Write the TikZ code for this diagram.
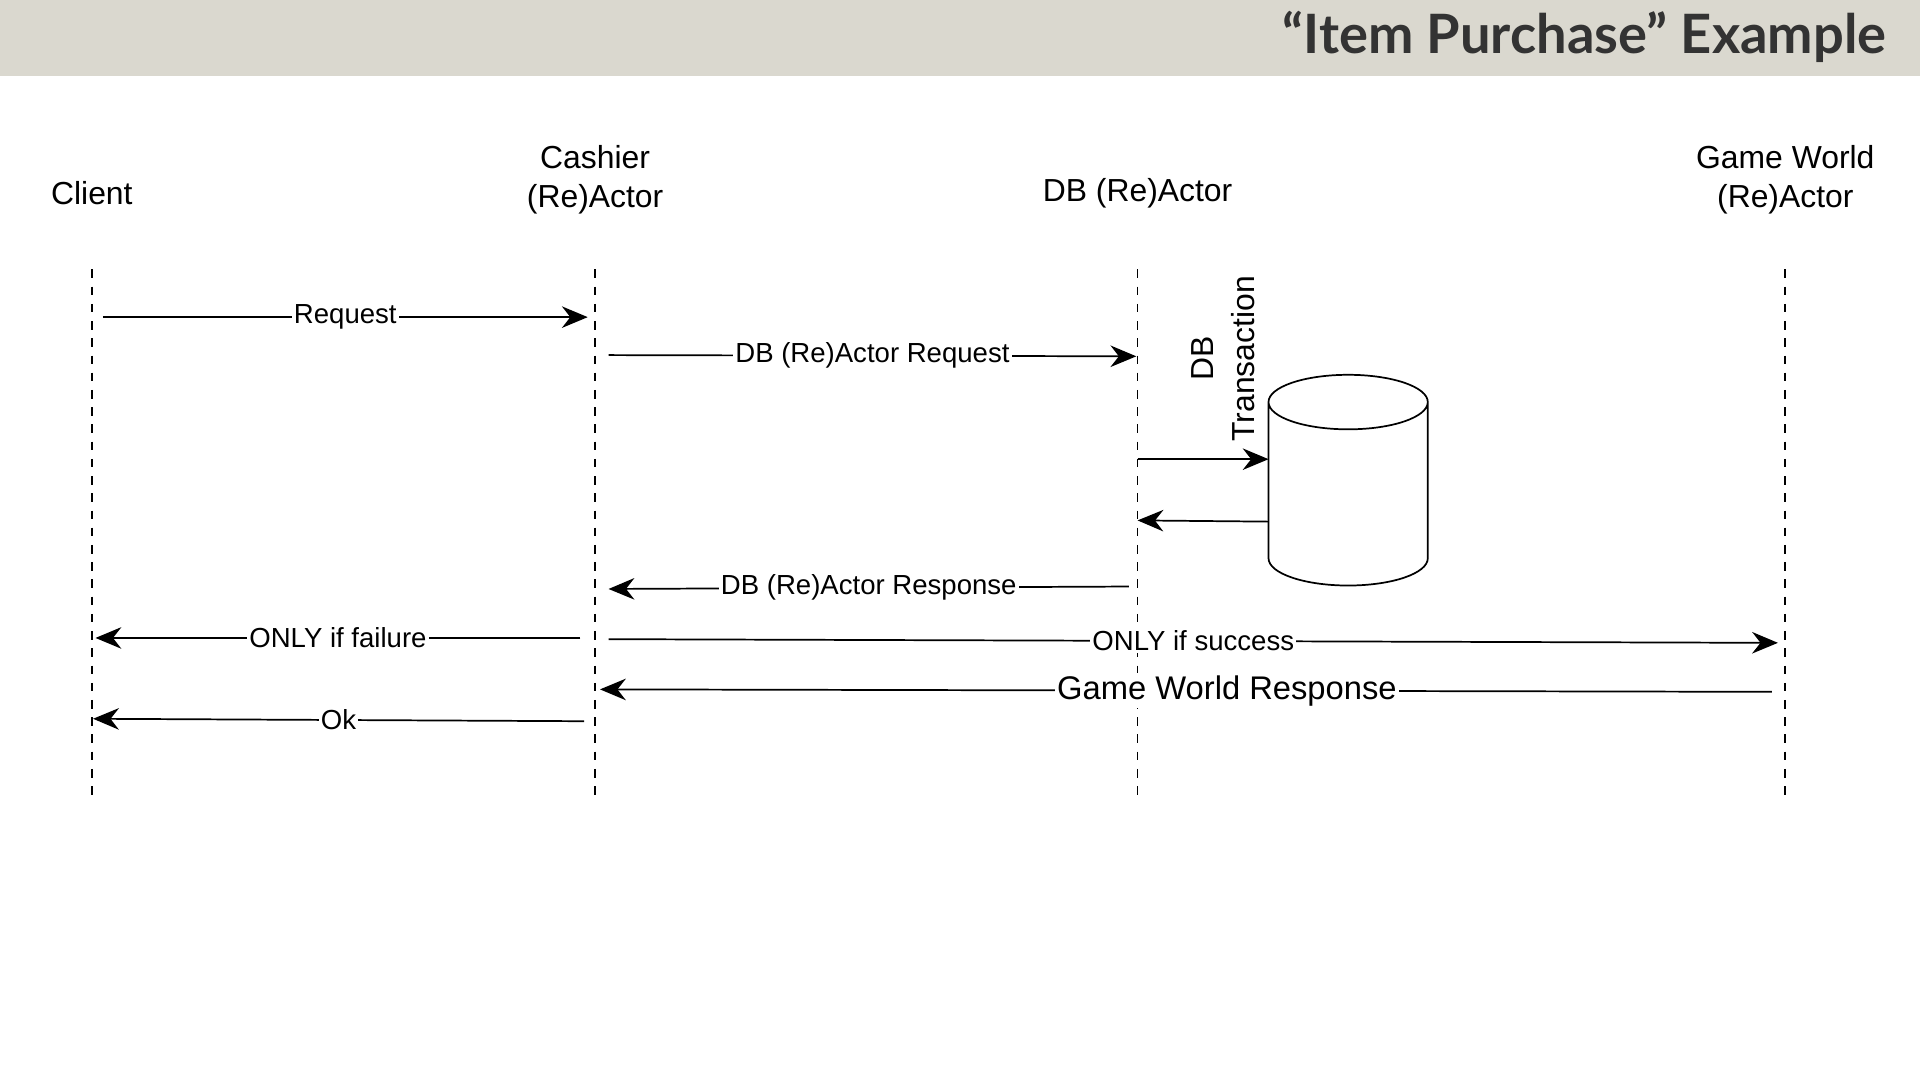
\documentclass[tikz,border=0pt]{standalone}
\usepackage{fontspec}
\setmainfont{Liberation Sans}
\newfontfamily\titlefont{Lato}
\usetikzlibrary{shapes.geometric,arrows.meta}
\definecolor{bandgray}{HTML}{DAD8CF}
\begin{document}
\begin{tikzpicture}[x=0.01cm,y=-0.01cm]
    % `actor' for lifeline heads, `msg' for messages on the lifelines
    \tikzset{
      actor/.style={align=center,font=\fontsize{7.4}{9}\selectfont},
      lifeline/.style={dash pattern=on 2pt off 2pt,thin},
      msg/.style={-{Stealth[length=6pt,width=5pt]},thin},
      lbl/.style={fill=white,inner sep=0.5pt,font=\fontsize{6.4}{8}\selectfont}
    }
    \useasboundingbox (0,0) rectangle (1568,882);
    \fill[bandgray] (0,0) rectangle (1568,62);
    \node[anchor=east,font=\titlefont\bfseries\fontsize{12.6}{15}\selectfont,text=black!80] (title) at (1553,30) {“Item Purchase” Example};
    %
    \node[actor] (client) at (75,158) {Client};
    \node[actor] (cashier) at (486,147) {Cashier\\(Re)Actor};
    \node[actor] (db) at (929,158) {DB (Re)Actor};
    \node[actor] (gw) at (1458,147) {Game World\\(Re)Actor};
    \foreach \n/\x in {c/75,k/486,d/929,g/1458} {
      \coordinate (\n top) at (\x,220);
      \coordinate (\n bot) at (\x,652);
      \draw[lifeline] (\n top) -- (\n bot);
    }
    %
    \node[draw,cylinder,shape border rotate=90,aspect=1.9,minimum width=1.3cm,minimum height=1.72cm,thin] (store) at (1101,410) {};
    \node[rotate=90,align=center,font=\fontsize{7.4}{9.5}\selectfont] (txn) at (999,293) {DB\\Transaction};
    %
    \coordinate (m1a) at (84,259);   \coordinate (m1b) at (480,259);
    \coordinate (m2a) at (497,290);  \coordinate (m2b) at (928,291);
    \coordinate (m3a) at (929,375);  \coordinate (m3b) at (1036,375);
    \coordinate (m4a) at (1036,426); \coordinate (m4b) at (929,425);
    \coordinate (m5a) at (922,479);  \coordinate (m5b) at (497,481);
    \coordinate (m6a) at (474,521);  \coordinate (m6b) at (78,521);
    \coordinate (m7a) at (497,522);  \coordinate (m7b) at (1452,525);
    \coordinate (m8a) at (1447,565); \coordinate (m8b) at (490,563);
    \coordinate (m9a) at (477,589);  \coordinate (m9b) at (76,587);
    \draw[msg] (m1a) -- node[lbl,pos=0.5] {Request} (m1b);
    \draw[msg] (m2a) -- node[lbl,pos=0.5] {DB (Re)Actor Request} (m2b);
    \draw[msg] (m3a) -- (m3b);
    \draw[msg] (m4a) -- (m4b);
    \draw[msg] (m5a) -- node[lbl,pos=0.5] {DB (Re)Actor Response} (m5b);
    \draw[msg] (m6a) -- node[lbl,pos=0.5] {ONLY if failure} (m6b);
    \draw[msg] (m7a) -- node[lbl,pos=0.5] {ONLY if success} (m7b);
    \draw[msg] (m8a) -- node[lbl,pos=0.465,font=\fontsize{7.6}{9}\selectfont] {Game World Response} (m8b);
    \draw[msg] (m9a) -- node[lbl,pos=0.5] {Ok} (m9b);
\end{tikzpicture}
\end{document}
